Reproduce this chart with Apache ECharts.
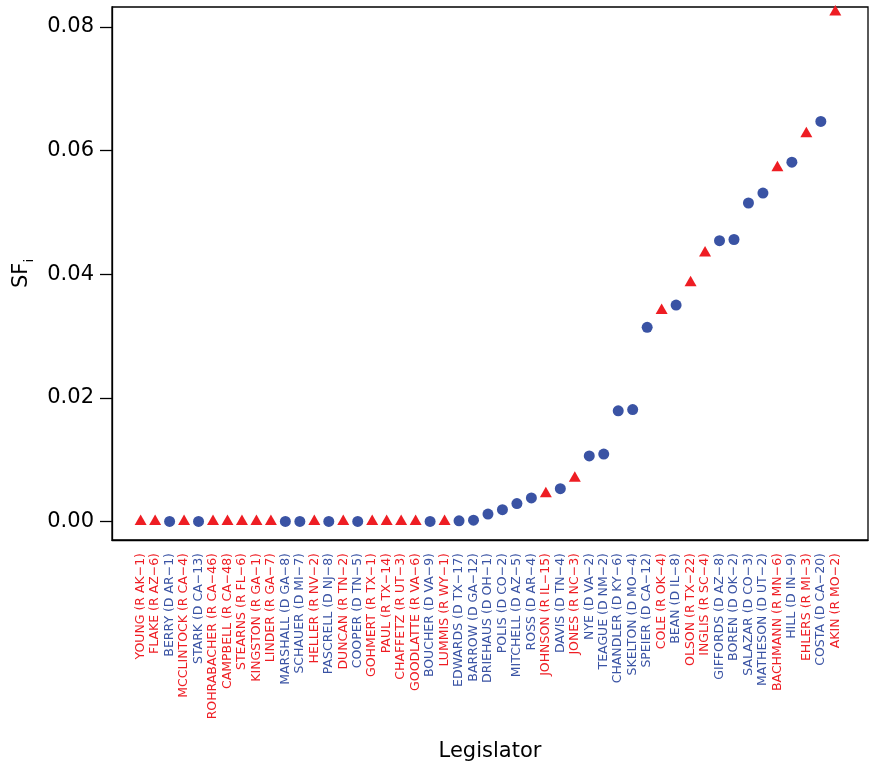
<!DOCTYPE html>
<html><head><meta charset="utf-8">
<script src="https://cdn.jsdelivr.net/npm/echarts@6/dist/echarts.min.js"></script>
<style>html,body{margin:0;padding:0;background:#fff}#c{width:869px;height:766px}</style>
</head><body><div id="c"></div>
<script>
const legislators = [
  'YOUNG (R AK−1)','FLAKE (R AZ−6)','BERRY (D AR−1)','MCCLINTOCK (R CA−4)','STARK (D CA−13)',
  'ROHRABACHER (R CA−46)','CAMPBELL (R CA−48)','STEARNS (R FL−6)','KINGSTON (R GA−1)','LINDER (R GA−7)',
  'MARSHALL (D GA−8)','SCHAUER (D MI−7)','HELLER (R NV−2)','PASCRELL (D NJ−8)','DUNCAN (R TN−2)',
  'COOPER (D TN−5)','GOHMERT (R TX−1)','PAUL (R TX−14)','CHAFFETZ (R UT−3)','GOODLATTE (R VA−6)',
  'BOUCHER (D VA−9)','LUMMIS (R WY−1)','EDWARDS (D TX−17)','BARROW (D GA−12)','DRIEHAUS (D OH−1)',
  'POLIS (D CO−2)','MITCHELL (D AZ−5)','ROSS (D AR−4)','JOHNSON (R IL−15)','DAVIS (D TN−4)',
  'JONES (R NC−3)','NYE (D VA−2)','TEAGUE (D NM−2)','CHANDLER (D KY−6)','SKELTON (D MO−4)',
  'SPEIER (D CA−12)','COLE (R OK−4)','BEAN (D IL−8)','OLSON (R TX−22)','INGLIS (R SC−4)',
  'GIFFORDS (D AZ−8)','BOREN (D OK−2)','SALAZAR (D CO−3)','MATHESON (D UT−2)','BACHMANN (R MN−6)',
  'HILL (D IN−9)','EHLERS (R MI−3)','COSTA (D CA−20)','AKIN (R MO−2)'
];
const sfValues = [
  0,0,0,0,0, 0,0,0,0,0,
  0,0,0,0,0, 0,0,0,0,0,
  0,0,0.0001,0.0002,0.0012,
  0.0019,0.0029,0.0038,0.0045,0.0053,
  0.0070,0.0106,0.0109,0.0179,0.0181,
  0.0314,0.0341,0.0350,0.0386,0.0434,
  0.0454,0.0456,0.0515,0.0531,0.0572,
  0.0581,0.0627,0.0647,0.0824
];
const yTicks = [0, 0.02, 0.04, 0.06, 0.08];

const RED = '#EE1D23', BLUE = '#3A53A4';
const FONT = 'DejaVu Sans';
const party = legislators.map(s => / \(R /.test(s) ? 'R' : 'D');
const xIdx = legislators.map((_, i) => i + 1);
const repData = [], demData = [];
legislators.forEach((n, i) => {
  (party[i] === 'R' ? repData : demData).push([i + 1, sfValues[i]]);
});

const chart = echarts.init(document.getElementById('c'), null, {renderer: 'canvas'});
chart.setOption({
  animation: false,
  backgroundColor: '#fff',
  textStyle: {fontFamily: FONT},
  grid: {left: 112, right: 1, top: 7, bottom: 226, show: true, borderColor: '#000', borderWidth: 1.3,
         containLabel: false, outerBoundsMode: 'none'},
  xAxis: {
    type: 'value', min: -0.98, max: 51.26,
    name: 'Legislator', nameLocation: 'middle', nameGap: 201,
    nameTextStyle: {fontSize: 21, color: '#000', fontFamily: FONT},
    axisLine: {show: true, onZero: false, lineStyle: {color: '#000', width: 1.3}},
    axisTick: {show: false},
    splitLine: {show: false},
    axisLabel: {
      customValues: xIdx, rotate: 90, margin: 13,
      formatter: v => { const i = Math.round(v) - 1; return '{' + party[i] + '|' + legislators[i] + '}'; },
      rich: {
        R: {color: RED, fontSize: 12.5, fontFamily: FONT},
        D: {color: BLUE, fontSize: 12.5, fontFamily: FONT}
      }
    }
  },
  yAxis: {
    type: 'value', min: -0.003, max: 0.0832,
    name: '{a|SF}{b|i}', nameLocation: 'middle', nameGap: 73,
    nameTextStyle: {
      rich: {
        a: {fontSize: 21, color: '#000', fontFamily: FONT, lineHeight: 30},
        b: {fontSize: 13, color: '#000', fontFamily: FONT, lineHeight: 13, verticalAlign: 'bottom'}
      }
    },
    axisLine: {show: true, onZero: false, lineStyle: {color: '#000', width: 1.3}},
    axisTick: {show: true, customValues: yTicks, length: 12, lineStyle: {color: '#000', width: 1.3}},
    splitLine: {show: false},
    axisLabel: {customValues: yTicks, formatter: v => v.toFixed(2), fontSize: 21, color: '#000', margin: 18, fontFamily: FONT}
  },
  series: [
    {type: 'scatter', name: 'R', data: repData, symbol: 'triangle', symbolSize: [12, 10.5],
     symbolOffset: [0, -1.75], itemStyle: {color: RED, opacity: 1}, clip: true},
    {type: 'scatter', name: 'D', data: demData, symbol: 'circle', symbolSize: 11,
     itemStyle: {color: BLUE, opacity: 1}, clip: true}
  ]
});
</script></body></html>
